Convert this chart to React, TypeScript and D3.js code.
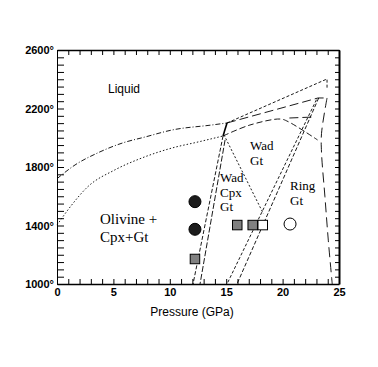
import React, { useEffect, useRef } from "react";
import * as d3 from "d3";

// boundary curves, pressure (GPa) and temperature (C)
const upperP = [0, 1.6, 3.6, 5.8, 7.8, 10.2, 13.7, 15.07];
const upperT = [1720, 1814, 1896, 1964, 2005, 2053, 2087, 2101];
const lowerP = [0, 1.3, 2.7, 5.1, 7.5, 10.2, 12.5, 14.72];
const lowerT = [1403, 1540, 1663, 1779, 1861, 1930, 1971, 2012];
const junctionP = [15.07, 14.72];
const junctionT = [2101, 2012];
const topLineP = [15.07, 23.94, 23.94];
const topLineT = [2101, 2402, 2333];
const midLineP = [15.07, 23.14, 23.94];
const midLineT = [2101, 2272, 2272];
const domeP = [14.72, 17.1, 19.8, 20.5, 23.1];
const domeT = [2012, 2087, 2128, 2110, 1985];
const shortP = [20.6, 22.8];
const shortT = [2135, 2142];
const olWadAP = [14.72, 12.06];
const olWadAT = [2012, 1000];
const olWadBP = [14.9, 12.68];
const olWadBT = [1985, 1000];
const cpxOutP = [14.8, 18.3];
const cpxOutT = [2020, 1480];
const wadRingAP = [23.0, 15.07];
const wadRingAT = [2260, 1000];
const wadRingBP = [23.2, 15.96];
const wadRingBT = [2272, 1000];
const rightP = [23.94, 23.45, 23.45, 23.75, 24.05, 24.4];
const rightT = [2272, 2030, 1900, 1600, 1300, 1000];

// experiments
const blackP = [12.23, 12.23];
const blackT = [1563, 1374];
const grayP = [12.23, 15.98, 17.35];
const grayT = [1171, 1403, 1403];
const whiteSqP = [18.24];
const whiteSqT = [1403];
const openP = [20.66];
const openT = [1410];

const yLabels = [1000, 1400, 1800, 2200, 2600];
const xLabels = [0, 5, 10, 15, 20, 25];

export default function App() {
  const ref = useRef<SVGSVGElement>(null);

  useEffect(() => {
    const svg = d3.select(ref.current);
    svg.selectAll("*").remove();

    const x = d3.scaleLinear().domain([0, 25]).range([57, 339]);
    const y = d3.scaleLinear().domain([1000, 2600]).range([284, 50]);
    const sans = "'Liberation Sans', Arial, sans-serif";
    const serif = "'Liberation Serif', 'Times New Roman', serif";

    const xTicks = d3.range(0, 26, 1);
    const yTicks = d3.range(1000, 2601, 50);

    // axes, ticks point inward
    const bottom = svg.append("g").attr("transform", "translate(0,284)")
      .call(d3.axisBottom(x).tickValues(xTicks).tickSize(-5).tickSizeOuter(0).tickPadding(4)
        .tickFormat((d: any) => (xLabels.includes(+d) ? String(d) : "")));
    bottom.select(".domain").attr("stroke-width", 1.5);

    const left = svg.append("g").attr("transform", "translate(57,0)")
      .call(d3.axisLeft(y).tickValues(yTicks).tickSize(-7).tickSizeOuter(0).tickPadding(3)
        .tickFormat((d: any) => (yLabels.includes(+d) ? `${d}°` : "")));
    left.select(".domain").attr("stroke-width", 1);

    const top = svg.append("g").attr("transform", "translate(0,50)")
      .call(d3.axisTop(x).tickValues(xTicks).tickSize(-5).tickSizeOuter(0).tickFormat(() => ""));
    top.select(".domain").attr("stroke-width", 1.5);

    const right = svg.append("g").attr("transform", "translate(339,0)")
      .call(d3.axisRight(y).tickValues(yTicks).tickSize(-4).tickSizeOuter(0).tickFormat(() => ""));
    right.select(".domain").attr("stroke-width", 2);

    svg.selectAll(".tick text")
      .attr("font-family", sans).attr("font-weight", "bold").attr("font-size", 11).attr("fill", "#000");

    svg.append("text").attr("x", 192).attr("y", 316).attr("text-anchor", "middle")
      .attr("font-family", sans).attr("font-size", 12).text("Pressure (GPa)");

    // phase boundaries
    const drawLine = (ps: number[], ts: number[], dash: string, w = 0.9, curve: any = d3.curveLinear) => {
      const pts = ps.map((p, i) => [p, ts[i]] as [number, number]);
      const line = d3.line<[number, number]>().x(d => x(d[0])).y(d => y(d[1])).curve(curve);
      svg.append("path").attr("d", line(pts)).attr("fill", "none").attr("stroke", "#000")
        .attr("stroke-width", w).attr("stroke-dasharray", dash);
    };

    drawLine(upperP, upperT, "5,2,1,2", 0.9, d3.curveMonotoneX);
    drawLine(lowerP, lowerT, "1.5,2", 0.9, d3.curveMonotoneX);
    drawLine(junctionP, junctionT, "none", 1.6);
    drawLine(topLineP, topLineT, "3,2");
    drawLine(midLineP, midLineT, "9,4");
    drawLine(domeP, domeT, "6,3", 0.9, d3.curveCatmullRom);
    drawLine(shortP, shortT, "9,4");
    drawLine(olWadAP, olWadAT, "4,2");
    drawLine(olWadBP, olWadBT, "6,2");
    drawLine(cpxOutP, cpxOutT, "2,2");
    drawLine(wadRingAP, wadRingAT, "3,2");
    drawLine(wadRingBP, wadRingBT, "4,2");
    drawLine(rightP, rightT, "10,5", 0.9, d3.curveCatmullRom);

    // data points
    svg.selectAll(".blk").data(blackP).join("circle").attr("class", "blk")
      .attr("cx", d => x(d)).attr("cy", (d, i) => y(blackT[i])).attr("r", 6)
      .attr("fill", "#1c1c1c").attr("stroke", "#000");
    svg.selectAll(".opn").data(openP).join("circle").attr("class", "opn")
      .attr("cx", d => x(d)).attr("cy", (d, i) => y(openT[i])).attr("r", 6)
      .attr("fill", "#fff").attr("stroke", "#000");
    const sq = 9.5;
    svg.selectAll(".gry").data(grayP).join("rect").attr("class", "gry")
      .attr("x", d => x(d) - sq / 2).attr("y", (d, i) => y(grayT[i]) - sq / 2)
      .attr("width", sq).attr("height", sq).attr("fill", "#808080").attr("stroke", "#000");
    svg.selectAll(".wht").data(whiteSqP).join("rect").attr("class", "wht")
      .attr("x", d => x(d) - sq / 2).attr("y", (d, i) => y(whiteSqT[i]) - sq / 2)
      .attr("width", sq).attr("height", sq).attr("fill", "#fff").attr("stroke", "#000");

    // field labels
    const label = (tx: number, ty: number, s: string, size = 13, font = serif) =>
      svg.append("text").attr("x", tx).attr("y", ty).attr("font-family", font)
        .attr("font-size", size).text(s);

    label(108, 93, "Liquid", 12, sans);
    label(100, 224, "Olivine +", 15);
    label(100, 242, "Cpx+Gt", 15);
    label(250, 150, "Wad");
    label(250, 165, "Gt");
    label(220, 182, "Wad");
    label(220, 197, "Cpx");
    label(220, 211, "Gt");
    label(290, 190, "Ring");
    label(290, 205, "Gt");
  }, []);

  return (
    <svg ref={ref} width={378} height={367}
      style={{ position: "absolute", left: 0, top: 0, background: "#fff" }} />
  );
}
